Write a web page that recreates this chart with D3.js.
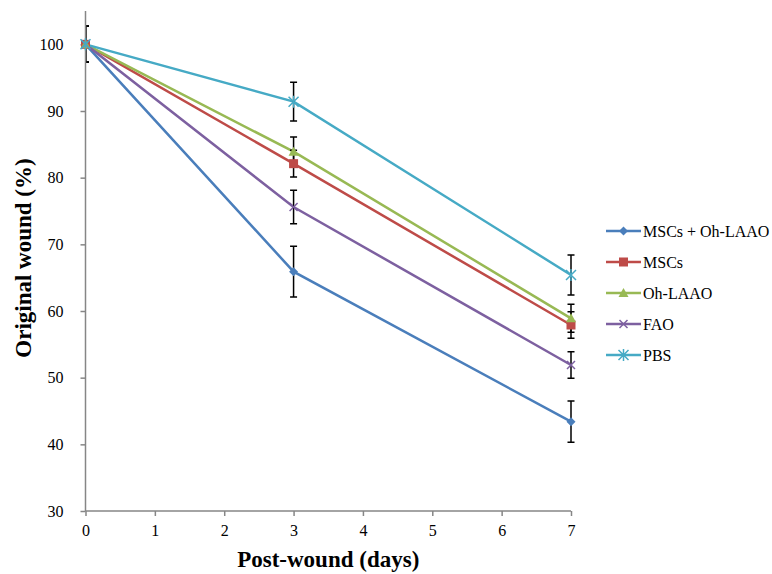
<!DOCTYPE html>
<html>
<head>
<meta charset="utf-8">
<script src="https://cdn.jsdelivr.net/npm/d3@7"></script>
<style>
  body { margin: 0; background: #fff; }
  svg { display: block; font-family: "Liberation Serif", serif; }
  .axis path, .axis line { stroke: #868686; stroke-width: 1.5; }
  .axis text { font-family: "Liberation Serif", serif; font-size: 16px; fill: #000; }
</style>
</head>
<body>
<svg id="chart"></svg>
<script>
const WIDTH = 772;
const HEIGHT = 574;
const PLOT_LEFT = 85.5; //x of the y-axis
const PLOT_RIGHT = 571; //x of day 7
const PLOT_TOP = 11;
const PLOT_BOTTOM = 511; //y of the x-axis

// data
const days = [0, 3, 7];
const seriesNames = ["MSCs + Oh-LAAO", "MSCs", "Oh-LAAO", "FAO", "PBS"];
const seriesColors = ["#4A7EBB", "#BE4B48", "#98B954", "#7D60A0", "#46AAC5"];
const seriesMarkers = ["diamond", "square", "triangle", "x", "star"];
const msctOhValues = [100, 65.9, 43.4];
const mscsValues = [100, 82.1, 57.9];
const ohLaaoValues = [100, 83.9, 58.9];
const faoValues = [100, 75.6, 51.9];
const pbsValues = [100, 91.4, 65.4];
const msctOhErr = [2.7, 3.8, 3.1];
const mscsErr = [2.7, 2.0, 2.0];
const ohLaaoErr = [2.7, 2.2, 2.1];
const faoErr = [2.7, 2.5, 2.0];
const pbsErr = [2.7, 2.9, 3.0];
const xTicks = [0, 1, 2, 3, 4, 5, 6, 7];
const yTicks = [30, 40, 50, 60, 70, 80, 90, 100];

const allValues = [msctOhValues, mscsValues, ohLaaoValues, faoValues, pbsValues];
const allErr = [msctOhErr, mscsErr, ohLaaoErr, faoErr, pbsErr];
const series = seriesNames.map((name, i) => ({
  name: name,
  color: seriesColors[i],
  marker: seriesMarkers[i],
  points: days.map((d, j) => ({ day: d, value: allValues[i][j], err: allErr[i][j] }))
}));

const svg = d3.select("#chart").attr("width", WIDTH).attr("height", HEIGHT);

const xScale = d3.scaleLinear().domain([0, 7]).range([PLOT_LEFT, PLOT_RIGHT]);
const yScale = d3.scaleLinear().domain([30, 105]).range([PLOT_BOTTOM, PLOT_TOP]);

svg.append("defs").append("clipPath").attr("id", "plot-clip")
  .append("rect")
  .attr("x", PLOT_LEFT).attr("y", 0)
  .attr("width", WIDTH - PLOT_LEFT).attr("height", PLOT_BOTTOM);

const plot = svg.append("g").attr("clip-path", "url(#plot-clip)");

const line = d3.line().x(d => xScale(d.day)).y(d => yScale(d.value));

// lines
plot.selectAll(".series-line")
  .data(series)
  .enter()
  .append("path")
  .attr("class", "series-line")
  .attr("d", d => line(d.points))
  .attr("fill", "none")
  .attr("stroke", d => d.color)
  .attr("stroke-width", 2.5);

// error bars
const CAP = 3.5;
series.forEach(s => {
  s.points.forEach(p => {
    const x = xScale(p.day), y1 = yScale(p.value + p.err), y2 = yScale(p.value - p.err);
    plot.append("path")
      .attr("d", "M" + x + "," + y1 + "V" + y2 +
                 "M" + (x - CAP) + "," + y1 + "H" + (x + CAP) +
                 "M" + (x - CAP) + "," + y2 + "H" + (x + CAP))
      .attr("fill", "none")
      .attr("stroke", "#000")
      .attr("stroke-width", 1.5);
  });
});

// axes (over the error bars, like the original)
svg.append("g")
  .attr("class", "axis")
  .attr("transform", "translate(0," + PLOT_BOTTOM + ")")
  .call(d3.axisBottom(xScale).tickValues(xTicks).tickFormat(d3.format("d"))
    .tickSize(5).tickSizeOuter(0).tickPadding(9))
  .call(g => g.select(".domain").attr("d", "M" + PLOT_LEFT + ",0H" + PLOT_RIGHT));

svg.append("g")
  .attr("class", "axis")
  .attr("transform", "translate(" + PLOT_LEFT + ",0)")
  .call(d3.axisLeft(yScale).tickValues(yTicks).tickFormat(d3.format("d"))
    .tickSize(5).tickSizeOuter(0).tickPadding(17))
  .call(g => g.select(".domain").attr("d", "M0," + PLOT_TOP + "V" + PLOT_BOTTOM));

// markers
function drawMarker(g, type, color, x, y) {
  if (type === "diamond") {
    g.append("path").attr("d", "M" + x + "," + (y - 4.5) + "l4.5,4.5l-4.5,4.5l-4.5,-4.5z").attr("fill", color);
  } else if (type === "square") {
    g.append("rect").attr("x", x - 4.5).attr("y", y - 4.5).attr("width", 9).attr("height", 9).attr("fill", color);
  } else if (type === "triangle") {
    g.append("path").attr("d", "M" + x + "," + (y - 5) + "l5,9h-10z").attr("fill", color);
  } else if (type === "x") {
    g.append("path").attr("d", "M" + (x - 4) + "," + (y - 4) + "l8,8M" + (x + 4) + "," + (y - 4) + "l-8,8")
      .attr("stroke", color).attr("stroke-width", 1.5);
  } else if (type === "star") {
    g.append("path").attr("d", "M" + (x - 5) + "," + (y - 5) + "l10,10M" + (x + 5) + "," + (y - 5) + "l-10,10M" + x + "," + (y - 6) + "v12")
      .attr("stroke", color).attr("stroke-width", 1.5);
  }
}

const markerLayer = svg.append("g");
series.forEach(s => {
  s.points.forEach(p => drawMarker(markerLayer, s.marker, s.color, xScale(p.day), yScale(p.value)));
});

// axis titles
svg.append("text")
  .attr("x", (PLOT_LEFT + PLOT_RIGHT) / 2)
  .attr("y", 567)
  .attr("text-anchor", "middle")
  .style("font-size", "23px")
  .style("font-weight", "bold")
  .text("Post-wound (days)");

svg.append("text")
  .attr("transform", "translate(31,258) rotate(-90)")
  .attr("text-anchor", "middle")
  .style("font-size", "23px")
  .style("font-weight", "bold")
  .text("Original wound (%)");

// legend
const legend = svg.append("g").attr("transform", "translate(606,231)");
series.forEach((s, i) => {
  const row = legend.append("g").attr("transform", "translate(0," + (i * 31) + ")");
  row.append("line").attr("x1", 0).attr("x2", 35).attr("y1", 0).attr("y2", 0)
    .attr("stroke", s.color).attr("stroke-width", 2.5);
  drawMarker(row, s.marker, s.color, 17.5, 0);
  row.append("text").attr("x", 37).attr("y", 0).attr("dy", "0.35em")
    .style("font-size", "16px")
    .text(s.name);
});
</script>
</body>
</html>
